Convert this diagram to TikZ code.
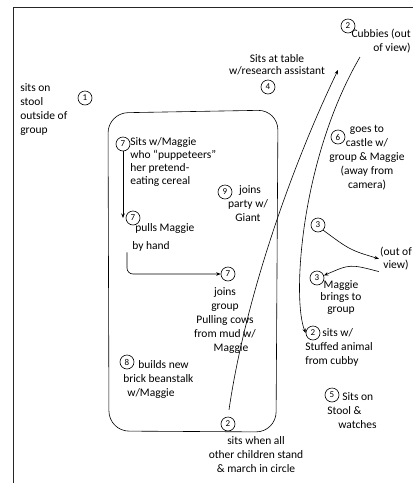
\documentclass[tikz,border=0pt]{standalone}
\usepackage{fontspec}
\setmainfont{Carlito}
\usetikzlibrary{arrows.meta}
\usetikzlibrary{positioning}

\begin{document}
\begin{tikzpicture}[x=1pt, y=-1pt, line width=0.6pt,
  >={Stealth[length=4.5pt,width=3.5pt]},
  num/.style={draw, circle, minimum size=14pt, inner sep=0pt, font=\fontsize{9}{9}\selectfont},
  note/.style={inner sep=1pt, font=\fontsize{11.5}{14}\selectfont}]
\useasboundingbox (0,0) rectangle (413,483);
\draw[line width=1pt, black!85] (13,483) -- (13,7) -- (413,7);

% group area
\draw[rounded corners=20] (109,431) -- (108,113) -- (278,110) -- (276,432) -- cycle;

% outside the group
\node [num] (n1) at (85,98) {1};
\node [note, anchor=north west, align=left] (t1) at (19,82) {sits on\\stool\\outside of\\group};

\node [num] (ncub) at (348,26) {2};
\node [note, anchor=north east, align=right] (tcub) at (412,28) {Cubbies (out\\of view)};
\coordinate (cubfoot) at (360,57);

\node [note, anchor=north, align=center] (t4) at (277,53) {Sits at table\\[-2pt]w/research assistant};
\node [num] (n4) at (268,87) {4};
\coordinate (tablept) at (338,70);

\node [num] (n6) at (338,137) {6};
\node [note, anchor=north, align=center] (t6) at (367,124) {goes to\\castle w/\\group \& Maggie\\(away from\\camera)};

\node [num] (n3a) at (318,225) {3};
\node [note, anchor=north, align=center] (tout) at (396,246) {(out of\\[-1pt]view)};
\node [num] (n3b) at (317,278) {3};
\node [note, anchor=north, align=center] (t3b) at (341,279) {Maggie\\[-2pt]brings to\\[-2pt]group};

\node [num] (n2b) at (313,333) {2};
\node [note, anchor=north west, align=left] (t2b) at (304,327) {\hspace*{17pt}sits w/\\Stuffed animal\\from cubby};

\node [num] (n5) at (332,395) {5};
\node [note, anchor=north west, align=left] (t5) at (326,391) {\hspace*{15pt}Sits on\\Stool \&\\\hspace*{11pt}watches};

% inside the group
\node [num] (n7a) at (123,144) {7};
\node [note, anchor=north west, align=left] (t7a) at (129,136) {Sits w/Maggie\\[-1pt]who ``puppeteers''\\[-1pt]her pretend-\\[-1pt]eating cereal};

\node [num] (n7b) at (133,218) {7};
\node [note, anchor=north west, align=left] (t7b) at (131,222) {\hspace*{3pt}pulls Maggie\\[4pt]by hand};

\node [num] (n7c) at (228,274) {7};
\node [note, anchor=north, align=center] (t7c) at (225,286) {joins\\group\\Pulling cows\\from mud w/\\\hspace*{12pt}Maggie};

\node [num] (n9) at (225,192) {9};
\node [note, anchor=north, align=center] (t9) at (248,184) {\hspace*{4pt}joins\\party w/\\Giant};

\node [num] (n8) at (127,362) {8};
\node [note, anchor=north west, align=left] (t8) at (122,359) {\hspace*{15pt}builds new\\brick beanstalk\\\hspace*{4pt}w/Maggie};

\node [num] (n2a) at (228,424) {2};
\node [note, anchor=north, align=center] (t2a) at (256,435) {sits when all\\other children stand\\\& march in circle};

% connectors
\draw [->] (n7a.south) -- (n7a.south |- n7b.west);
\draw [->, rounded corners=6] ([xshift=-4pt]t7b.south west) -- ([xshift=-4pt]t7b.south west |- n7c.west) -- (n7c.west);
\draw [->, shorten <=7pt] (n2a.north) .. controls (245,300) and (290,170) .. (tablept);
\draw [->] (cubfoot) .. controls (300,160) and (292,300) .. (n2b.west);
\draw [->] (n3a.south east) .. controls (350,250) .. (tout.west);
\draw [->] (tout.south west) .. controls (350,264) .. (n3b.20);
\end{tikzpicture}
\end{document}
